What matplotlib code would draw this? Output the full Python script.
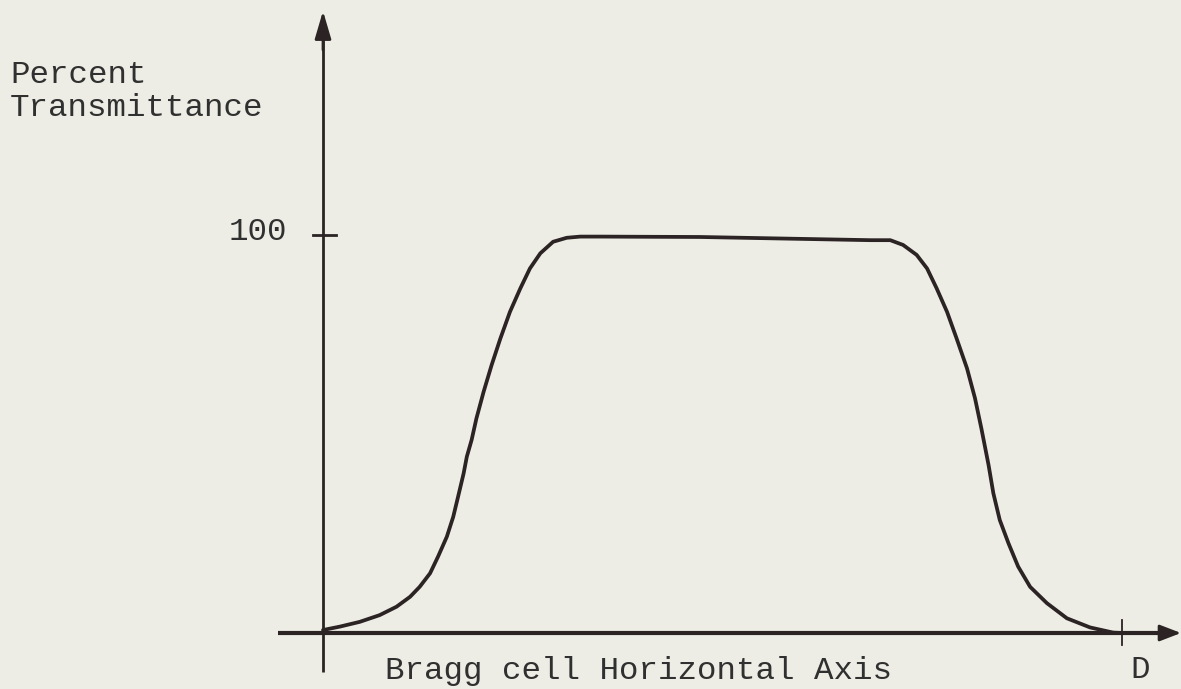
import matplotlib
matplotlib.use("Agg")
import matplotlib.pyplot as plt

# Curve: position across the Bragg cell (0..D, D=1)
position = [0.000, 0.021, 0.046, 0.071, 0.092, 0.109, 0.121, 0.134, 0.144, 0.155,
            0.163, 0.169, 0.176, 0.180, 0.186, 0.192, 0.201, 0.211, 0.222, 0.234,
            0.247, 0.259, 0.272, 0.288, 0.305, 0.322, 0.347, 0.472, 0.685, 0.710,
            0.726, 0.743, 0.756, 0.768, 0.781, 0.793, 0.806, 0.816, 0.824, 0.833,
            0.839, 0.847, 0.858, 0.870, 0.885, 0.906, 0.931, 0.960, 0.989, 1.000]
transmittance = [0.75, 1.6, 2.8, 4.5, 6.6, 9.1, 11.6, 15.0, 19.2, 24.2,
                 29.2, 34.2, 40.1, 44.3, 48.5, 53.9, 60.6, 67.3, 74.0, 80.7,
                 86.6, 91.6, 95.4, 98.3, 99.3, 99.6, 99.6, 99.5, 98.7, 98.7,
                 97.5, 95.0, 91.6, 86.6, 80.7, 74.0, 66.5, 59.0, 51.4, 42.2,
                 35.1, 28.4, 22.5, 16.7, 11.6, 7.5, 3.7, 1.4, 0.1, 0.0]
y_label_lines = ["Percent", "Transmittance"]
y_tick_label = "100"
x_label = "Bragg cell Horizontal Axis"
x_end_label = "D"

W, H = 1181, 689
BG = "#edede5"
INK = "#2b2324"
TXT = "#303030"

fig = plt.figure(figsize=(W / 100, H / 100), dpi=100, facecolor=BG)
# axes: data x 0..1 -> px 323..1122 ; data y 0..100 -> px 633..235
x0, x1 = 323, 1122
y0, y1 = 633, 235
ax = fig.add_axes([x0 / W, (H - y0) / H, (x1 - x0) / W, (y0 - y1) / H])
ax.set_xlim(0, 1)
ax.set_ylim(0, 100)
ax.axis("off")
ax.patch.set_alpha(0)

def dx(px):
    return (px - x0) / (x1 - x0)

def dy(py):
    return (y0 - py) / (y0 - y1) * 100

# y axis with arrow
ax.plot([0, 0], [dy(672), dy(30)], color=INK, lw=2.0, clip_on=False, solid_capstyle="butt")
ax.annotate("", xy=(0, dy(11)), xytext=(0, dy(50)), annotation_clip=False,
            arrowprops=dict(arrowstyle="-|>,head_length=1.7,head_width=0.5",
                            color=INK, lw=2.0, shrinkA=0, shrinkB=0))
# x axis with arrow
ax.plot([dx(278), dx(1165)], [0, 0], color=INK, lw=3.0, clip_on=False, solid_capstyle="butt")
ax.annotate("", xy=(dx(1181), 0), xytext=(dx(1140), 0), annotation_clip=False,
            arrowprops=dict(arrowstyle="-|>,head_length=1.3,head_width=0.5",
                            color=INK, lw=2.0, shrinkA=0, shrinkB=0))
# ticks
ax.plot([dx(313), dx(336)], [100, 100], color=INK, lw=2.0, clip_on=False)
ax.plot([1, 1], [dy(620), dy(645)], color=INK, lw=1.3, clip_on=False)

# curve
ax.plot(position, transmittance, color=INK, lw=2.7, clip_on=False,
        solid_joinstyle="round", solid_capstyle="round")

font = "Liberation Mono"
fs = 23.4
fig.text(10 / W, 1 - 75 / H, y_label_lines[0], family=font, fontsize=fs, color=TXT,
         ha="left", va="center")
fig.text(10 / W, 1 - 108 / H, y_label_lines[1], family=font, fontsize=fs, color=TXT,
         ha="left", va="center")
fig.text(287 / W, 1 - 232 / H, y_tick_label, family=font, fontsize=fs, color=TXT,
         ha="right", va="center")
fig.text(385 / W, 1 - 671 / H, x_label, family=font, fontsize=fs, color=TXT,
         ha="left", va="center")
fig.text(1140 / W, 1 - 670 / H, x_end_label, family=font, fontsize=fs, color=TXT,
         ha="center", va="center")

fig.savefig("out.png", dpi=100, facecolor=BG)
